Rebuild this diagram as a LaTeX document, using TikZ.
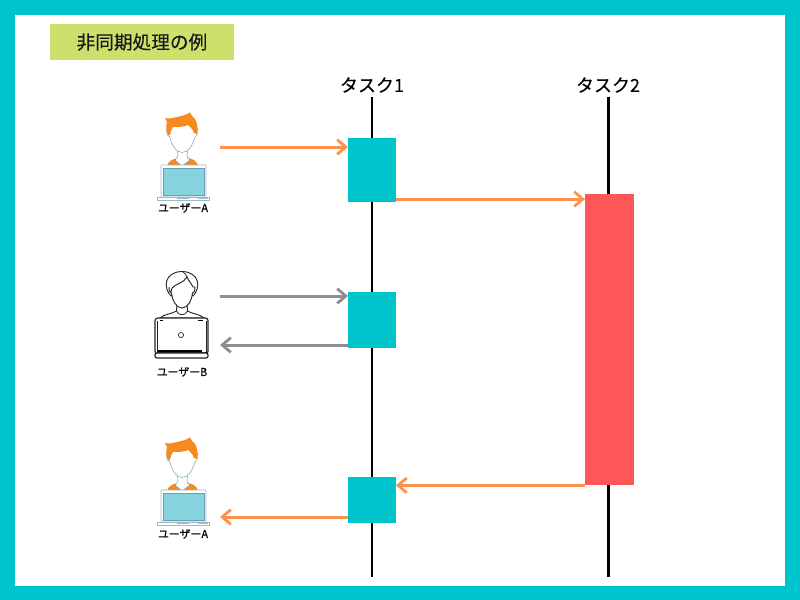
\documentclass[tikz,border=0pt]{standalone}
\usepackage{fontspec}
\setmainfont[FakeBold=0.25]{Noto Sans CJK JP}
\usetikzlibrary{arrows.meta}
\definecolor{frameteal}{HTML}{00C4CC}
\definecolor{titlegreen}{HTML}{CBE16B}
\definecolor{taskred}{HTML}{FF5757}
\definecolor{arroworange}{HTML}{FF914D}
\definecolor{arrowgray}{HTML}{8E8E8E}
\definecolor{hairorange}{HTML}{F58A1F}
\definecolor{screenblue}{HTML}{86D3DE}
\definecolor{outlineblue}{HTML}{6E9DB5}
\tikzset{
  x=0.75pt,y=-0.75pt,
  lifeline/.style={line width=1.6pt,black},
  taskbox/.style={fill=frameteal,draw=none,inner sep=0pt,minimum width=35.5pt,anchor=north west},
  longbox/.style={fill=taskred,draw=none,inner sep=0pt,minimum width=36.5pt,minimum height=218.5pt,anchor=north west},
  tasklabel/.style={font=\fontsize{13.5}{15}\selectfont,inner sep=0pt},
  userlabel/.style={font=\fontsize{8.2}{9}\selectfont,inner sep=0pt},
  msg/.style={line width=2.25pt,-{Straight Barb[length=6.5pt,width=11pt,line width=2.1pt]}},
  msgo/.style={msg,arroworange},
  msgg/.style={msg,arrowgray},
  thinface/.style={draw=outlineblue,line width=0.35pt,fill=white},
  bwline/.style={draw=black!85,line width=0.7pt,fill=white},
}
\newcommand{\userashape}[1]{%
  \begin{scope}[yshift=-0.75pt*#1]
  % shoulders
  \fill[hairorange] (167,166) .. controls (168,161) and (173,159) .. (178,158) -- (188,158) .. controls (193,159) and (197,161) .. (198,166) -- cycle;
  % neck
  \path[thinface] (177,148) -- (178,155) .. controls (178,158) and (176,159) .. (175,160) -- (182,166) -- (190,160) .. controls (188,159) and (187,158) .. (187,155) -- (188,148) -- cycle;
  % face
  \path[thinface] (167,127) .. controls (166,132) and (167,136) .. (170,137) .. controls (171,144) and (176,152.5) .. (182,152.5) .. controls (189,152.5) and (193,144) .. (195,137) .. controls (198,136) and (198,131) .. (197,127) -- (190,120) -- (172,122) -- cycle;
  % hair
  \fill[hairorange] (165,118) .. controls (169,119) and (173,118) .. (177,117) .. controls (182,116) and (186,115) .. (190,112.5) .. controls (191,115) and (193,117) .. (195,119) .. controls (197,122) and (198,127) .. (197,134) -- (194,133) .. controls (193,129) and (190,127) .. (188,125) .. controls (184,127) and (178,127) .. (173,127) .. controls (171,129) and (171,132) .. (170,135) -- (168,135) .. controls (166,131) and (166,126) .. (167,122) -- cycle;
  % laptop
  \path[draw=outlineblue!70,line width=0.4pt,fill=white,rounded corners=0.5pt] (161,165) rectangle (206,197);
  \path[fill=screenblue,draw=outlineblue,line width=0.3pt] (163,168) rectangle (204,195.5);
  \path[draw=outlineblue!70,line width=0.4pt,fill=white] (157,197) rectangle (209,200);
  \fill[outlineblue!70] (177,197.5) rectangle (189,198.5);
  \fill[outlineblue!70] (198,197.5) rectangle (208,199);
  \end{scope}
}
\begin{document}
\begin{tikzpicture}
\useasboundingbox (0,0) rectangle (800,600);
% frame
\fill[frameteal] (0,0) rectangle (800,600);
\fill[white] (15,15) rectangle (785,586);
% title
\node[fill=titlegreen,inner sep=0pt,minimum width=137.5pt,minimum height=27.5pt,anchor=north west,font=\fontsize{14}{16}\selectfont,text=black!90] (title) at (50,23.5) {非同期処理の例};
% lifelines
\node[tasklabel] (t1) at (372,85) {タスク1};
\node[tasklabel] (t2) at (608,85) {タスク2};
\coordinate (e1) at (372,577);
\coordinate (e2) at (608.5,577);
\draw[lifeline] (372,97) -- (e1);
\draw[lifeline] (608.5,97) -- (e2);
% boxes
\node[taskbox,minimum height=48pt] (b1) at (348,138) {};
\node[taskbox,minimum height=42pt] (b2) at (348,292) {};
\node[taskbox,minimum height=34pt] (b3) at (348,477) {};
\node[longbox] (r) at (585,193.5) {};
% users
\userashape{0}
\userashape{325}
% user B: body and neck
\path[bwline] (177,303) -- (176.5,311) .. controls (172,314) and (164,314) .. (160,318) -- (204,318) .. controls (200,314) and (192,314) .. (187.5,311) -- (187,303) -- cycle;
\draw[black!85,line width=0.6pt] (176.5,311) .. controls (178,316) and (186,316) .. (187.5,311);
% user B: hair
\path[bwline] (171,296) .. controls (163,288) and (164,272) .. (182,271.5) .. controls (200,272) and (201,288) .. (193,296) -- (182,285) -- cycle;
% user B: face
\path[bwline] (169,287) .. controls (169,291) and (170,293) .. (171.5,293) .. controls (172,300) and (176,308) .. (182,308) .. controls (188,308) and (192,300) .. (192.5,293) .. controls (194,293) and (195,291) .. (195,287) -- (193,287) .. controls (191,283) and (188,280) .. (187,277) .. controls (184,283) and (175,284) .. (172,288) -- (171,292);
\draw[black!85,line width=0.6pt] (187,277) .. controls (186,275) and (185,273) .. (183,272);
% user B: laptop
\draw[black!85,line width=0.9pt,fill=white,rounded corners=2pt] (155,318) rectangle (208,354);
\draw[black!85,line width=0.4pt] (157,321) -- (157,352) -- (206,352) -- (206,321);
\draw[black,line width=0.8pt] (160,320.5) -- (163,320.5) (198,320.5) -- (203,320.5);
\draw[black,line width=0.8pt] (158,351) -- (202,351);
\draw[black!85,line width=0.9pt,fill=white,rounded corners=1.5pt] (155,353) rectangle (208,358);
\draw[black!85,line width=0.5pt] (181,335) circle (2.6);
% user labels
\node[userlabel] (ua) at (183,208) {ユーザーA};
\node[userlabel] (ub) at (182,372) {ユーザーB};
\node[userlabel] (uc) at (183,534) {ユーザーA};
% connector anchors
\coordinate (a1) at (220,147);
\coordinate (a2) at (220,296);
\coordinate (a3) at (220,345);
\coordinate (a4) at (220,517);
\draw[msgo] (a1) -- (a1 -| b1.west);
\coordinate (m1) at ([yshift=2.6pt]b1.south east);
\draw[msgo] (m1) -- (m1 -| r.west);
\draw[msgg] (a2) -- (a2 -| b2.west);
\draw[msgg] (a3 -| b2.west) -- (a3);
\coordinate (m2) at (r.south west);
\draw[msgo] (m2) -- (m2 -| b3.east);
\draw[msgo] (a4 -| b3.west) -- (a4);
\end{tikzpicture}
\end{document}
